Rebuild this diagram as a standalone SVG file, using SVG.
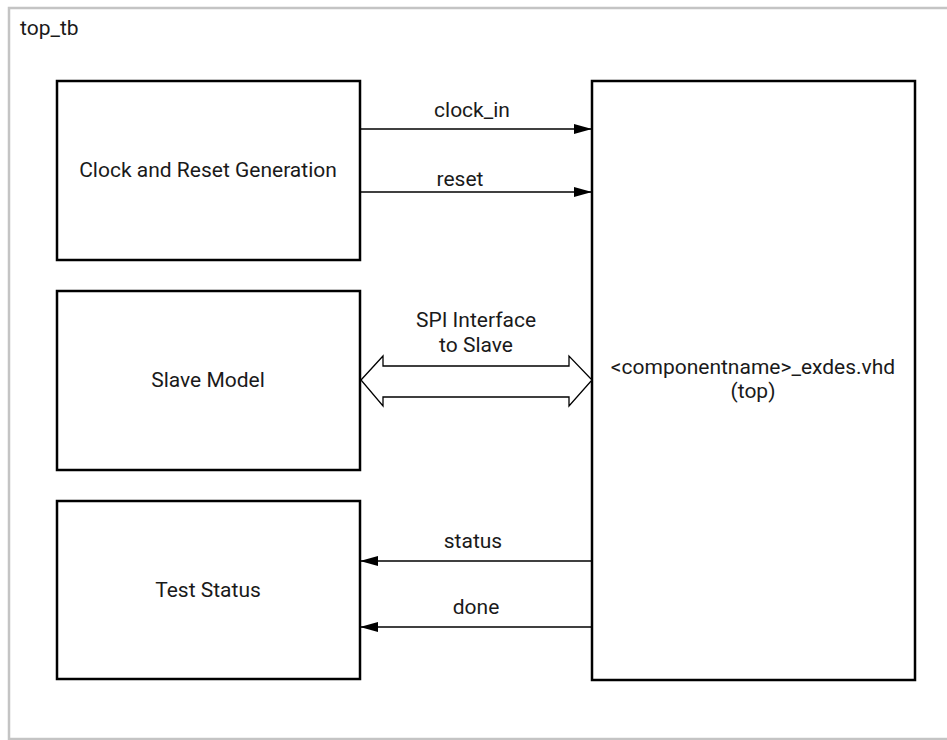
<svg xmlns="http://www.w3.org/2000/svg" width="947" height="740" viewBox="0 0 947 740">
  <style>
    .frame { fill: #ffffff; stroke: #c4c4c4; stroke-width: 2.5; }
    .box { fill: #ffffff; stroke: #000000; stroke-width: 2.5; }
    .lbl { font-family: Roboto, "Liberation Sans", sans-serif; font-size: 21px; fill: #1a1a1a; text-anchor: middle; }
    .sig { stroke: #000000; stroke-width: 1.3; fill: none; }
    .bus { fill: #ffffff; stroke: #000000; stroke-width: 1.3; }
  </style>
  <defs>
    <marker id="arrow" viewBox="0 0 18 10" refX="18" refY="5" markerWidth="18" markerHeight="10" markerUnits="userSpaceOnUse" orient="auto">
      <path d="M0,0 L18,5 L0,10 Z" fill="#000000"/>
    </marker>
  </defs>

  <!-- testbench frame -->
  <rect class="frame" x="9" y="8" width="960" height="731"/>
  <text x="20" y="35" font-family="Roboto, 'Liberation Sans', sans-serif" font-size="21" fill="#1a1a1a">top_tb</text>

  <g id="clock-reset">
    <rect class="box" x="57" y="81" width="303" height="179"/>
    <text class="lbl" x="208" y="177">Clock and Reset Generation</text>
  </g>

  <g id="slave-model">
    <rect class="box" x="57" y="291" width="303" height="179"/>
    <text class="lbl" x="208" y="387">Slave Model</text>
  </g>

  <g id="test-status">
    <rect class="box" x="57" y="501" width="303" height="178"/>
    <text class="lbl" x="208" y="597">Test Status</text>
  </g>

  <g id="exdes-top">
    <rect class="box" x="592" y="81" width="323" height="599"/>
    <text class="lbl" x="753" y="374">&lt;componentname&gt;_exdes.vhd</text>
    <text class="lbl" x="753" y="398">(top)</text>
  </g>

  <g id="connectors">
    <line class="sig" x1="360" y1="129" x2="592" y2="129" marker-end="url(#arrow)"/>
    <text class="lbl" x="472" y="117">clock_in</text>

    <line class="sig" x1="360" y1="192" x2="592" y2="192" marker-end="url(#arrow)"/>
    <text class="lbl" x="460" y="186">reset</text>

    <path class="bus" d="M361,380 L383,356 L383,366 L569,366 L569,356 L592,380 L569,406 L569,397 L383,397 L383,406 Z"/>
    <text class="lbl" x="476" y="327">SPI Interface</text>
    <text class="lbl" x="476" y="352">to Slave</text>

    <line class="sig" x1="592" y1="561" x2="360" y2="561" marker-end="url(#arrow)"/>
    <text class="lbl" x="473" y="548">status</text>

    <line class="sig" x1="592" y1="627" x2="360" y2="627" marker-end="url(#arrow)"/>
    <text class="lbl" x="476" y="614">done</text>
  </g>
</svg>
